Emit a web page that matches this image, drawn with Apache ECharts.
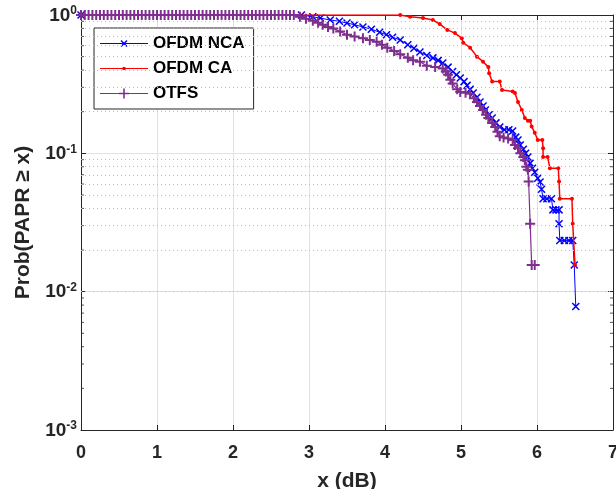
<!DOCTYPE html>
<html>
<head>
<meta charset="utf-8">
<title>PAPR CCDF</title>
<script src="https://cdn.jsdelivr.net/npm/echarts@6/dist/echarts.min.js"></script>
<style>
html, body { margin: 0; padding: 0; background: #fff; }
#main { width: 616px; height: 489px; }
</style>
</head>
<body>
<div id="main"></div>
<script>
// CCDF points: [x (dB), Prob(PAPR >= x)]
var ncaData = [
  [0,1],[2.9,1],[3.05,0.97],[3.15,0.95],[3.28,0.92],[3.4,0.90],[3.5,0.875],[3.6,0.85],
  [3.71,0.82],[3.82,0.79],[3.93,0.75],[4.02,0.72],[4.1,0.69],[4.2,0.66],[4.3,0.61],
  [4.38,0.575],[4.46,0.54],[4.55,0.51],[4.63,0.49],[4.7,0.47],[4.76,0.45],[4.83,0.42],
  [4.89,0.39],[4.94,0.37],[4.99,0.35],[5.04,0.33],[5.08,0.31],[5.12,0.29],[5.16,0.273],
  [5.21,0.254],[5.25,0.235],[5.29,0.22],[5.32,0.206],[5.37,0.19],[5.41,0.18],[5.46,0.166],
  [5.51,0.155],[5.57,0.148],[5.63,0.148],[5.68,0.145],[5.72,0.131],[5.75,0.125],[5.78,0.115],
  [5.82,0.107],[5.85,0.1],[5.88,0.094],[5.91,0.085],[5.94,0.078],[5.97,0.073],[6.01,0.066],
  [6.04,0.062],[6.06,0.055],[6.08,0.047],[6.13,0.047],[6.19,0.047],[6.21,0.039],[6.25,0.039],
  [6.29,0.039],[6.29,0.031],[6.30,0.0234],[6.36,0.0234],[6.42,0.0234],[6.47,0.0234],
  [6.49,0.0156],[6.51,0.0078]
];
var caData = [
  [0,1],[4.2,1],[4.33,0.97],[4.5,0.95],[4.63,0.92],[4.72,0.86],[4.82,0.78],[4.92,0.74],
  [5.01,0.68],[5.03,0.63],[5.12,0.58],[5.21,0.50],[5.29,0.46],[5.36,0.42],[5.37,0.38],
  [5.41,0.33],[5.51,0.33],[5.54,0.287],[5.68,0.28],[5.71,0.273],[5.75,0.235],[5.80,0.206],
  [5.84,0.18],[5.88,0.172],[5.91,0.172],[5.93,0.156],[5.97,0.141],[6.01,0.125],[6.07,0.125],
  [6.08,0.109],[6.08,0.094],[6.14,0.094],[6.17,0.078],[6.28,0.078],[6.29,0.0625],[6.30,0.047],
  [6.46,0.047],[6.47,0.031],[6.50,0.0156]
];
var otfsData = [
  [0,1],[0.05,1],[0.1,1],[0.15,1],[0.2,1],[0.25,1],[0.3,1],[0.35,1],[0.4,1],[0.45,1],
  [0.5,1],[0.55,1],[0.6,1],[0.65,1],[0.7,1],[0.75,1],[0.8,1],[0.85,1],[0.9,1],[0.95,1],
  [1.0,1],[1.05,1],[1.1,1],[1.15,1],[1.2,1],[1.25,1],[1.3,1],[1.35,1],[1.4,1],[1.45,1],
  [1.5,1],[1.55,1],[1.6,1],[1.65,1],[1.7,1],[1.75,1],[1.8,1],[1.85,1],[1.9,1],[1.95,1],
  [2.0,1],[2.05,1],[2.1,1],[2.15,1],[2.2,1],[2.25,1],[2.3,1],[2.35,1],[2.4,1],[2.45,1],
  [2.5,1],[2.55,1],[2.6,1],[2.65,1],[2.7,1],[2.75,1],[2.8,1],
  [2.88,0.97],[2.96,0.94],[3.05,0.91],[3.12,0.88],[3.18,0.85],[3.25,0.82],[3.32,0.80],
  [3.41,0.76],[3.5,0.72],[3.6,0.70],[3.71,0.68],[3.8,0.66],[3.89,0.64],[3.96,0.61],
  [4.03,0.58],[4.12,0.55],[4.2,0.52],[4.3,0.49],[4.37,0.47],[4.46,0.46],[4.55,0.43],
  [4.66,0.42],[4.76,0.41],[4.8,0.39],[4.83,0.37],[4.86,0.34],[4.89,0.32],[4.95,0.29],
  [4.99,0.277],[5.06,0.274],[5.12,0.27],[5.17,0.25],[5.21,0.235],[5.25,0.22],[5.29,0.206],
  [5.33,0.19],[5.36,0.18],[5.41,0.166],[5.45,0.155],[5.48,0.143],[5.51,0.133],[5.56,0.13],
  [5.62,0.128],[5.68,0.125],[5.71,0.115],[5.75,0.109],[5.78,0.1],[5.82,0.094],[5.84,0.089],
  [5.86,0.08],[5.88,0.076],[5.89,0.0625],[5.91,0.031],[5.93,0.0156],[5.97,0.0156]
];
var seriesNames = ['OFDM NCA', 'OFDM CA', 'OTFS'];
// minor grid levels of the log axis
var minorLevels = [
  0.002,0.003,0.004,0.005,0.006,0.007,0.008,0.009,
  0.02,0.03,0.04,0.05,0.06,0.07,0.08,0.09,
  0.2,0.3,0.4,0.5,0.6,0.7,0.8,0.9
];

var FONT = "'Liberation Sans', Arial, Helvetica, sans-serif";
var AX = '#262626';
var GRID = '#e2e2e2';

var crossSym = 'path://M0,0L10,10M10,0L0,10';
var plusSym = 'path://M5,0L5,10M0,5L10,5';
// legend icons, box 48x14 (corner anchors keep the box size)
var A = 'M0,0L0.01,0L0,0.01Z M48,14L47.99,14L48,13.99Z ';
var iconNCA = 'path://' + A + 'M0,6.5L48,6.5L48,7.5L0,7.5Z M20.5,4.5L21.5,3.5L27.5,9.5L26.5,10.5Z M26.5,3.5L27.5,4.5L21.5,10.5L20.5,9.5Z';
var iconCA = 'path://' + A + 'M0,6.5L48,6.5L48,7.5L0,7.5Z M22.5,5.5L25.5,5.5L25.5,8.5L22.5,8.5Z';
var iconOTFS = 'path://' + A + 'M0,6.4L48,6.4L48,7.6L0,7.6Z M23.2,2L24.8,2L24.8,12L23.2,12Z M19,6.2L29,6.2L29,7.8L19,7.8Z';

var tickData = [];
minorLevels.forEach(function (v) { tickData.push([0, v, 'l']); tickData.push([7, v, 'r']); });

var chart = echarts.init(document.getElementById('main'));
chart.setOption({
  animation: false,
  backgroundColor: '#fff',
  grid: { left: 81, right: 3, top: 15, bottom: 59, outerBoundsMode: 'none', containLabel: false },
  legend: {
    data: [
      { name: seriesNames[0], icon: iconNCA },
      { name: seriesNames[1], icon: iconCA },
      { name: seriesNames[2], icon: iconOTFS }
    ],
    orient: 'vertical',
    left: 94, top: 28,
    itemWidth: 48, itemHeight: 14, itemGap: 8,
    padding: [7, 9, 7, 6],
    backgroundColor: '#fff',
    borderColor: AX, borderWidth: 1, borderRadius: 0,
    itemStyle: { borderWidth: 0 },
    textStyle: { fontSize: 17, fontWeight: 'bold', color: '#000', fontFamily: FONT, lineHeight: 14 }
  },
  xAxis: [{
    type: 'value', min: 0, max: 7, interval: 1, position: 'bottom',
    axisLine: { show: true, onZero: false, lineStyle: { color: AX } },
    axisTick: { show: true, inside: true, length: 5, lineStyle: { color: AX } },
    axisLabel: { fontSize: 18, fontWeight: 'bold', color: AX, fontFamily: FONT, margin: 14 },
    splitLine: { show: true, lineStyle: { color: GRID } },
    name: 'x (dB)', nameLocation: 'middle', nameGap: 41,
    nameTextStyle: { fontSize: 21, fontWeight: 'bold', color: AX, fontFamily: FONT }
  }, {
    type: 'value', min: 0, max: 7, interval: 1, position: 'top',
    axisLine: { show: true, onZero: false, lineStyle: { color: AX } },
    axisTick: { show: true, inside: true, length: 5, lineStyle: { color: AX } },
    axisLabel: { show: false }, splitLine: { show: false }
  }],
  yAxis: [{
    type: 'log', logBase: 10, min: 0.001, max: 1, position: 'left',
    axisLine: { show: true, onZero: false, lineStyle: { color: AX } },
    axisTick: { show: true, inside: true, length: 5, lineStyle: { color: AX } },
    axisLabel: {
      margin: 4, fontFamily: FONT,
      formatter: function (v) {
        var e = Math.round(Math.log10(v));
        return '{b|10}{e|' + e + '}';
      },
      rich: {
        b: { fontSize: 19, fontWeight: 'bold', color: AX, fontFamily: FONT, lineHeight: 20, verticalAlign: 'bottom', padding: [6, 0, 0, 0] },
        e: { fontSize: 12, fontWeight: 'bold', color: AX, fontFamily: FONT, lineHeight: 12, verticalAlign: 'top' }
      }
    },
    splitLine: { show: true, lineStyle: { color: GRID } },
    name: 'Prob(PAPR ≥ x)', nameLocation: 'middle', nameGap: 47,
    nameTextStyle: { fontSize: 21, fontWeight: 'bold', color: AX, fontFamily: FONT }
  }, {
    type: 'log', logBase: 10, min: 0.001, max: 1, position: 'right',
    axisLine: { show: true, onZero: false, lineStyle: { color: AX } },
    axisTick: { show: true, inside: true, length: 5, lineStyle: { color: AX } },
    axisLabel: { show: false }, splitLine: { show: false }
  }],
  series: [{
    name: 'minor', type: 'scatter', silent: true, z: 1,
    data: tickData,
    symbol: 'rect', symbolSize: [3, 1],
    symbolOffset: function (val) { return val[2] === 'l' ? [1.5, 0] : [-1.5, 0]; },
    itemStyle: { color: AX },
    markLine: {
      silent: true, symbol: ['none', 'none'], label: { show: false },
      lineStyle: { type: [1, 3], color: '#bdbdbd', width: 1 },
      data: minorLevels.map(function (v) { return { yAxis: v }; })
    }
  }, {
    name: seriesNames[0], type: 'line', data: ncaData, z: 3,
    symbol: crossSym, symbolSize: 7,
    lineStyle: { color: '#0000ff', width: 1 },
    itemStyle: { color: '#0000ff', borderColor: '#0000ff', borderWidth: 1.5 }
  }, {
    name: seriesNames[1], type: 'line', data: caData, z: 4,
    symbol: 'circle', symbolSize: 4,
    lineStyle: { color: '#ff0000', width: 1.5 },
    itemStyle: { color: '#ff0000' }
  }, {
    name: seriesNames[2], type: 'line', data: otfsData, z: 5,
    symbol: plusSym, symbolSize: 10,
    lineStyle: { color: '#7e2f8e', width: 1.2 },
    itemStyle: { color: '#7e2f8e', borderColor: '#7e2f8e', borderWidth: 2 }
  }]
});
</script>
</body>
</html>
